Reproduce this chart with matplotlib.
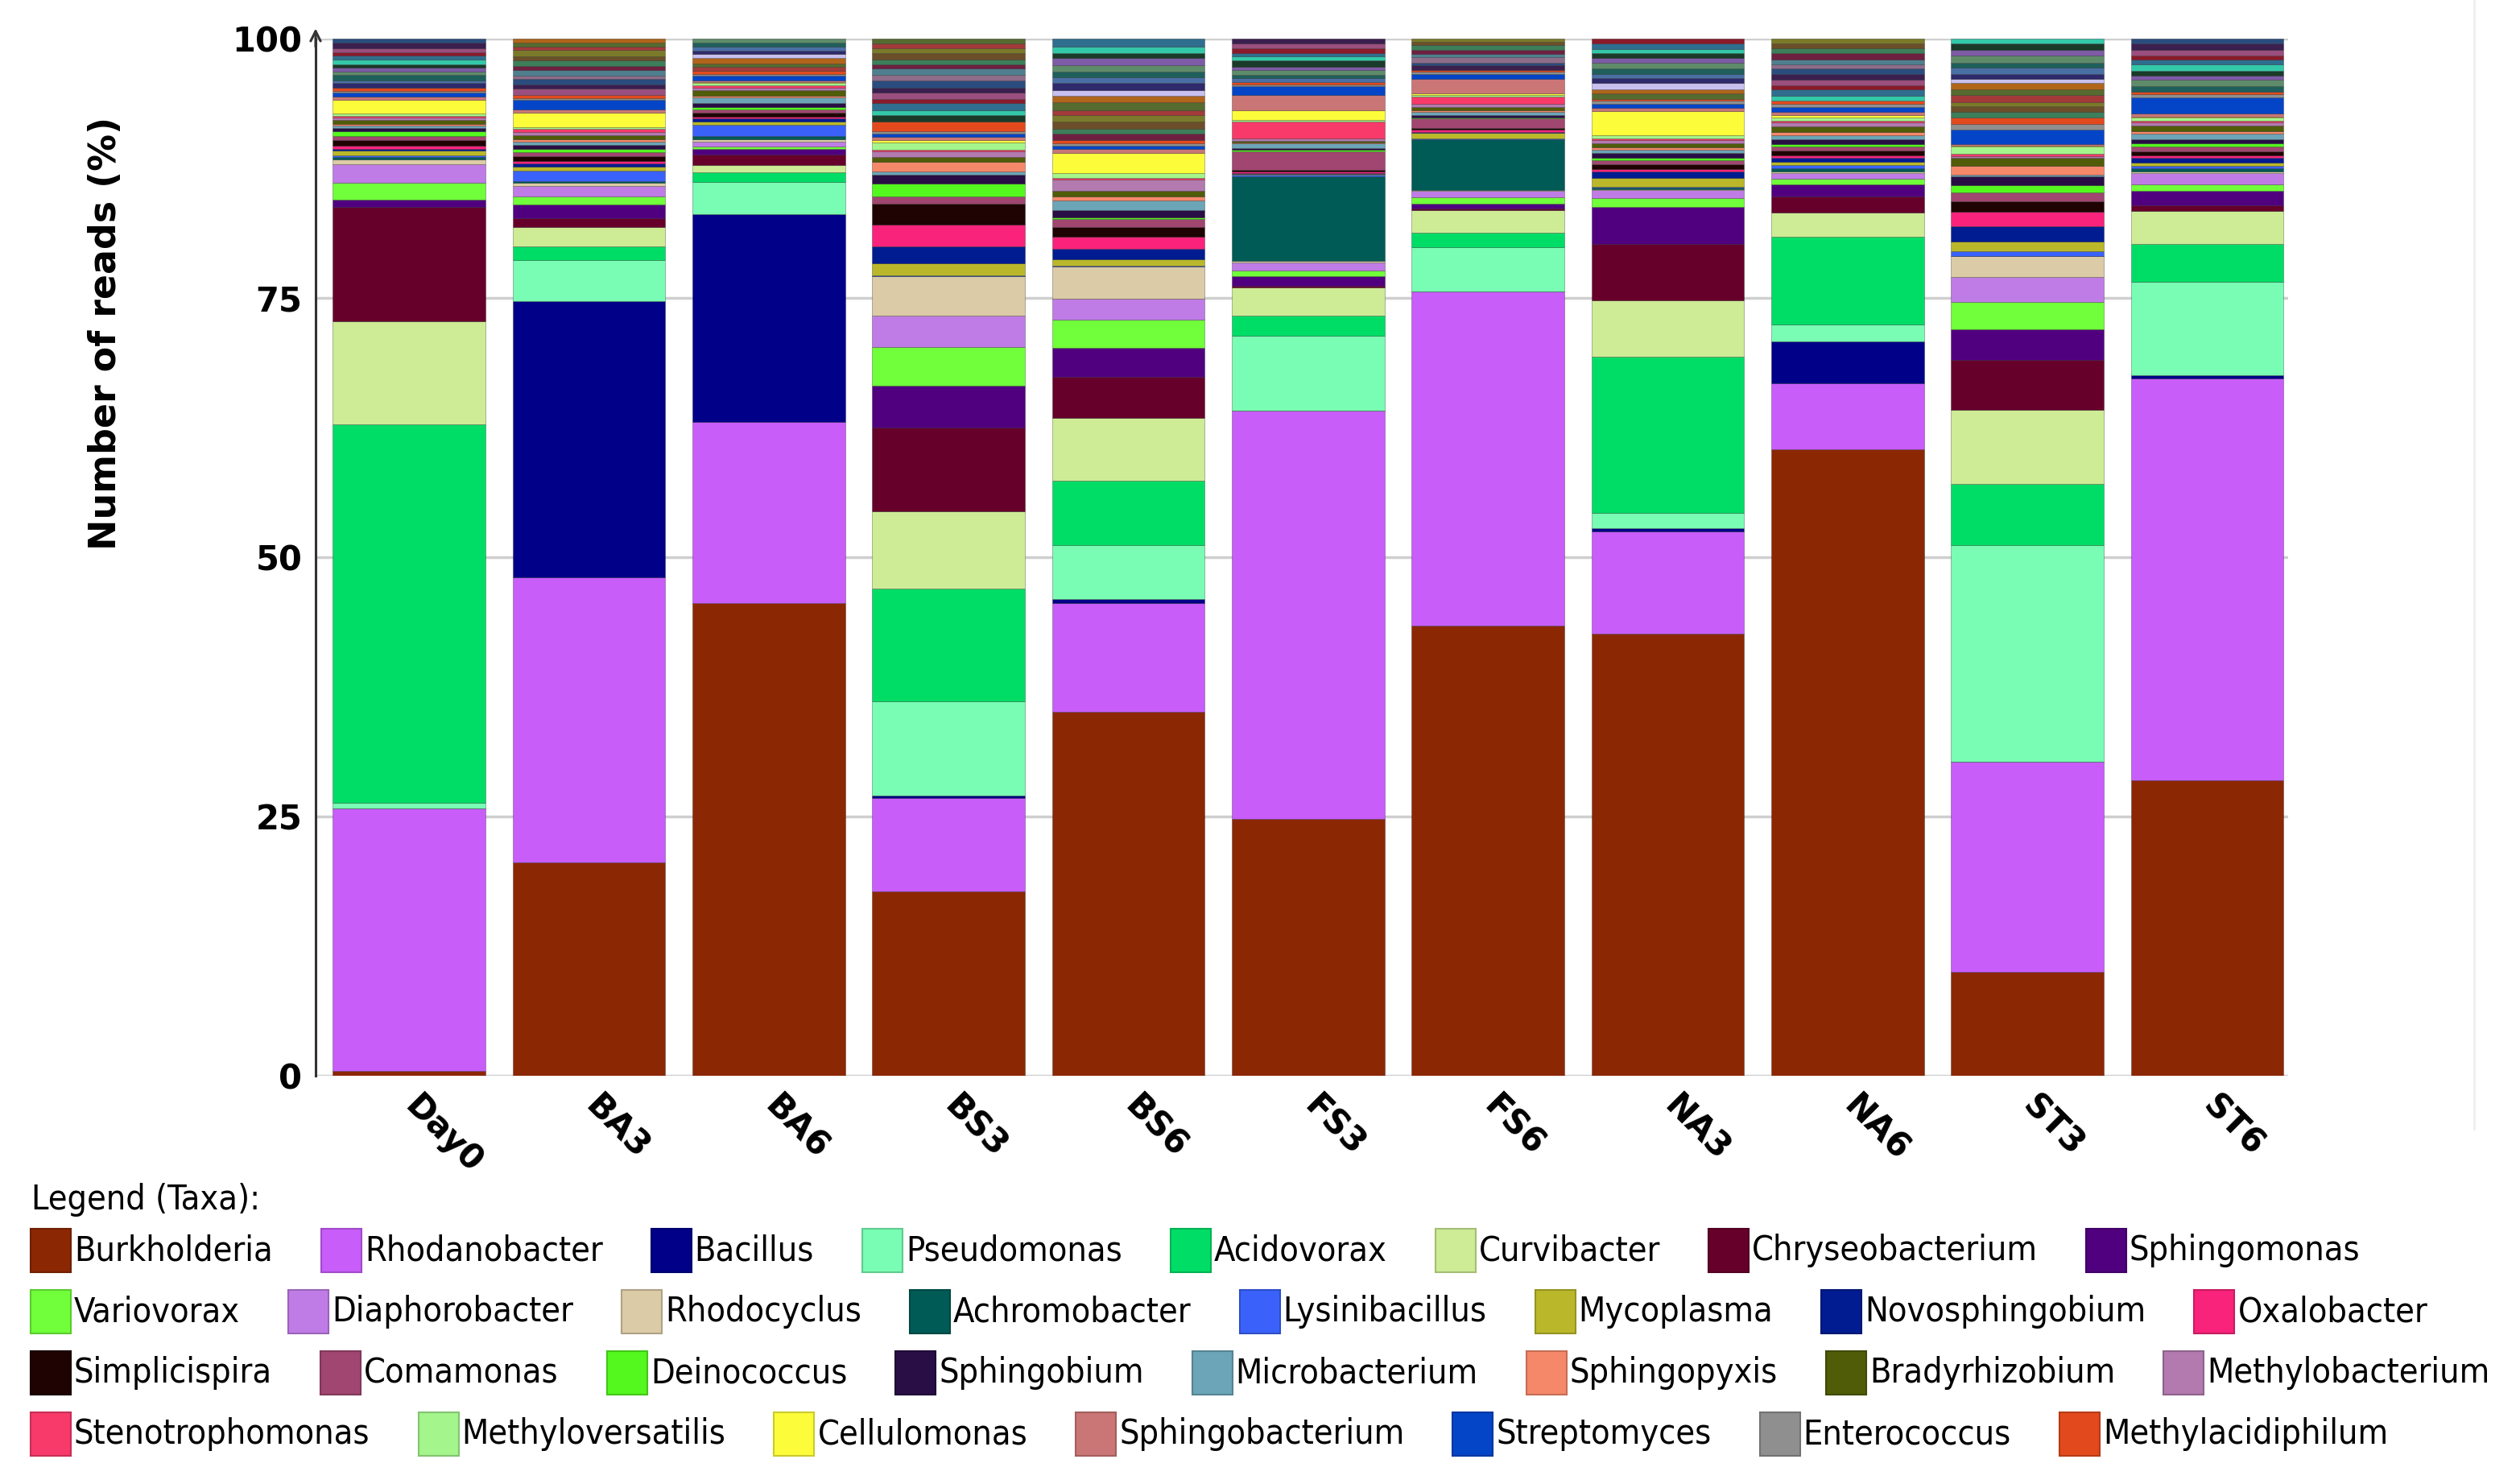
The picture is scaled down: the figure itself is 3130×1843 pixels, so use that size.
import matplotlib
matplotlib.use("Agg")
import matplotlib.pyplot as plt
from matplotlib.patches import Rectangle
from matplotlib.lines import Line2D
from matplotlib import colors as mcolors
from matplotlib import font_manager
import matplotlib.transforms as mtransforms
import numpy as np

# ---------------- data ----------------
SAMPLES = ["Day0", "BA3", "BA6", "BS3", "BS6", "FS3", "FS6", "NA3", "NA6", "ST3", "ST6"]

TAXA = ["Burkholderia", "Rhodanobacter", "Bacillus", "Pseudomonas", "Acidovorax",
        "Curvibacter", "Chryseobacterium", "Sphingomonas", "Variovorax", "Diaphorobacter",
        "Rhodocyclus", "Achromobacter", "Lysinibacillus", "Mycoplasma", "Novosphingobium",
        "Oxalobacter", "Simplicispira", "Comamonas", "Deinococcus", "Sphingobium",
        "Microbacterium", "Sphingopyxis", "Bradyrhizobium", "Methylobacterium",
        "Stenotrophomonas", "Methyloversatilis", "Cellulomonas", "Sphingobacterium",
        "Streptomyces", "Enterococcus", "Methylacidiphilum"]

TAXA_COLORS = ["#8C2703", "#C85DFA", "#000088", "#79FDB4", "#00DD66",
               "#CDEC95", "#66002A", "#50007F", "#70FF3A", "#C07CE6",
               "#DBCBA6", "#005A55", "#3A62FA", "#BAB82A", "#001C90",
               "#F9237B", "#1F0303", "#A04670", "#54F71E", "#280E45",
               "#6BA5B7", "#F6886A", "#505C08", "#B27AAF",
               "#F73A6A", "#A4F58C", "#FCFC3A", "#CA7676",
               "#0445C8", "#8F8F8F", "#E24A1E"]

#                  Day0   BA3    BA6   BS3    BS6   FS3   FS6   NA3   NA6   ST3   ST6
burkholderia    = [0.45, 20.5,  45.5, 17.8,  35.1, 24.7, 43.4, 42.6, 60.5, 10.0, 28.5]
rhodanobacter   = [25.25, 27.5, 17.5, 9.0,   10.5, 39.2, 32.2, 9.9,  6.3,  20.3, 38.8]
bacillus        = [0.0,  26.55, 20.0, 0.25,  0.35, 0.0,  0.0,  0.3,  4.1,  0.0,  0.3]
pseudomonas     = [0.6,  3.95,  3.1,  9.05,  5.25, 7.2,  4.3,  1.5,  1.6,  20.9, 9.0]
acidovorax      = [36.4, 1.3,   0.9,  10.9,  6.2,  2.0,  1.4,  15.0, 8.5,  5.9,  3.7]
curvibacter     = [9.9,  1.9,   0.7,  7.4,   6.0,  2.7,  2.2,  5.5,  2.3,  7.1,  3.2]
chryseobacterium= [11.0, 0.8,   1.0,  8.1,   4.0,  0.1,  0.1,  5.4,  1.6,  4.8,  0.5]
sphingomonas    = [0.7,  1.3,   0.6,  4.0,   2.8,  1.0,  0.5,  3.6,  1.1,  3.0,  1.4]
variovorax      = [1.6,  0.8,   0.2,  3.8,   2.7,  0.5,  0.6,  0.8,  0.6,  2.6,  0.6]
diaphorobacter  = [1.8,  1.0,   0.5,  3.0,   2.0,  0.8,  0.6,  0.8,  0.5,  2.4,  1.1]
rhodocyclus     = [0.5,  0.3,   0.2,  3.8,   3.1,  0.1,  0.1,  0.1,  0.2,  2.0,  0.2]
achromobacter   = [0.2,  0.2,   0.3,  0.0,   0.0,  8.2,  4.9,  0.1,  0.3,  0.0,  0.3]
lysinibacillus  = [0.2,  1.0,   1.1,  0.1,   0.1,  0.1,  0.1,  0.1,  0.3,  0.5,  0.2]
mycoplasma      = [0.4,  0.4,   0.3,  1.1,   0.6,  0.1,  0.5,  0.9,  0.3,  0.9,  0.3]
novosphingobium = [0.2,  0.3,   0.3,  1.7,   1.0,  0.1,  0.1,  0.6,  0.4,  1.5,  0.5]
oxalobacter     = [0.3,  0.2,   0.2,  2.1,   1.2,  0.1,  0.2,  0.2,  0.2,  1.4,  0.2]
simplicispira   = [0.5,  0.5,   0.4,  2.0,   0.9,  0.2,  0.2,  0.5,  0.5,  1.0,  0.4]
comamonas       = [0.4,  0.4,   0.3,  0.7,   0.8,  1.8,  0.9,  0.4,  0.4,  0.9,  0.5]
deinococcus     = [0.5,  0.3,   0.2,  1.2,   0.2,  0.1,  0.1,  0.2,  0.2,  0.7,  0.3]
sphingobium     = [0.3,  0.4,   0.4,  0.9,   0.7,  0.2,  0.2,  0.5,  0.5,  0.8,  0.4]
microbacterium  = [0.2,  0.3,   0.5,  0.3,   0.9,  0.4,  0.3,  0.3,  0.4,  0.2,  0.5]
sphingopyxis    = [0.2,  0.2,   0.2,  0.9,   0.4,  0.1,  0.2,  0.2,  0.3,  0.8,  0.3]
bradyrhizobium  = [0.4,  0.4,   0.5,  0.5,   0.5,  0.2,  0.3,  0.4,  0.5,  0.8,  0.5]
methylobacterium= [0.2,  0.3,   0.3,  0.5,   1.1,  0.2,  0.3,  0.3,  0.4,  0.2,  0.3]
stenotrophomonas= [0.2,  0.3,   0.2,  0.2,   0.2,  1.6,  0.7,  0.2,  0.2,  0.2,  0.2]
methyloversatilis=[0.2,  0.2,   0.2,  0.7,   0.4,  0.2,  0.2,  0.3,  0.3,  0.7,  0.3]
cellulomonas    = [1.3,  1.4,   0.1,  0.2,   2.0,  0.9,  0.1,  2.3,  0.2,  0.1,  0.1]
sphingobacterium= [0.3,  0.3,   0.2,  0.3,   0.4,  1.5,  1.4,  0.3,  0.3,  0.1,  0.3]
streptomyces    = [0.4,  0.9,   0.4,  0.3,   0.3,  0.8,  0.5,  0.4,  0.5,  1.4,  1.5]
enterococcus    = [0.2,  0.2,   0.2,  0.3,   0.2,  0.2,  0.2,  0.3,  0.3,  0.6,  0.3]
methylacidiphilum=[0.3,  0.3,   0.3,  0.9,   0.3,  0.2,  0.2,  0.2,  0.3,  0.6,  0.3]

TAXA_VALUES = [burkholderia, rhodanobacter, bacillus, pseudomonas, acidovorax,
               curvibacter, chryseobacterium, sphingomonas, variovorax, diaphorobacter,
               rhodocyclus, achromobacter, lysinibacillus, mycoplasma, novosphingobium,
               oxalobacter, simplicispira, comamonas, deinococcus, sphingobium,
               microbacterium, sphingopyxis, bradyrhizobium, methylobacterium,
               stenotrophomonas, methyloversatilis, cellulomonas, sphingobacterium,
               streptomyces, enterococcus, methylacidiphilum]

# many minor, unlisted taxa stacked at the top of each bar
OTHERS = [
    [0.4, 0.3, 0.5, 0.3, 0.4, 0.3, 0.5, 0.4, 0.3, 0.4, 0.5, 0.4],               # Day0
    [0.6, 0.4, 0.5, 0.3, 0.6, 0.4, 0.5, 0.4, 0.6, 0.3, 0.4, 0.4],               # BA3
    [0.4, 0.3, 0.5, 0.4, 0.3, 0.4, 0.4, 0.4],                                   # BA6
    [0.6, 0.5, 0.7, 0.4, 0.6, 0.5, 0.7, 0.5, 0.6, 0.4, 0.5, 0.6, 0.5, 0.4, 0.5],# BS3
    [0.6, 0.5, 0.7, 0.6, 0.5, 0.8, 0.6, 0.5, 0.7, 0.6, 0.5, 0.6, 0.7, 0.5, 0.6, 0.8], # BS6
    [0.4, 0.3, 0.5, 0.3, 0.6, 0.4, 0.3, 0.5, 0.4, 0.5],                         # FS3
    [0.4, 0.3, 0.5, 0.3, 0.4, 0.5, 0.3, 0.3],                                   # FS6
    [0.5, 0.4, 0.6, 0.5, 0.4, 0.5, 0.6, 0.4, 0.5, 0.4, 0.5, 0.5],               # NA3
    [0.5, 0.6, 0.4, 0.5, 0.6, 0.5, 0.4, 0.5, 0.6, 0.5, 0.4, 0.5],               # NA6
    [0.5, 0.6, 0.4, 0.7, 0.5, 0.6, 0.4, 0.5, 0.6, 0.5, 0.7, 0.5, 0.6, 0.5],     # ST3
    [0.5, 0.6, 0.4, 0.5, 0.6, 0.5, 0.4, 0.5, 0.6, 0.5],                         # ST6
]
OTHER_COLORS = ["#2E2A6B", "#3C7F5A", "#8B1A2B", "#4A6FA5", "#6B4F2A", "#9A4F7E",
                "#1F5F5B", "#7A7A2A", "#3B1F4F", "#5E8C6A", "#A33A3A", "#2B4C7E",
                "#7D5BA6", "#556B2F", "#8E6C8A", "#1A3A2A", "#B0651A", "#4F7F8F",
                "#33C9A8", "#C8C0EE", "#6E2040", "#2F6E8E"]

LEGEND_ROWS = [
    ["Burkholderia", "Rhodanobacter", "Bacillus", "Pseudomonas", "Acidovorax",
     "Curvibacter", "Chryseobacterium", "Sphingomonas"],
    ["Variovorax", "Diaphorobacter", "Rhodocyclus", "Achromobacter", "Lysinibacillus",
     "Mycoplasma", "Novosphingobium", "Oxalobacter"],
    ["Simplicispira", "Comamonas", "Deinococcus", "Sphingobium", "Microbacterium",
     "Sphingopyxis", "Bradyrhizobium", "Methylobacterium"],
    ["Stenotrophomonas", "Methyloversatilis", "Cellulomonas", "Sphingobacterium",
     "Streptomyces", "Enterococcus", "Methylacidiphilum"],
]

# ---------------- figure ----------------
W, H = 3130, 1843
fig = plt.figure(figsize=(W / 100, H / 100), dpi=100)
fig.patch.set_facecolor("white")
ax = fig.add_axes([392 / W, 1 - 1336 / H, (2842 - 392) / W, (1336 - 48) / H])

n = len(SAMPLES)
x = np.arange(n)
totals = np.array([sum(v[i] for v in TAXA_VALUES) + sum(OTHERS[i]) for i in range(n)])
scale = 100.0 / totals
bw = 0.85
edge = (0, 0, 0, 0.28)

bottom = np.zeros(n)
for vals, col in zip(TAXA_VALUES, TAXA_COLORS):
    v = np.array(vals) * scale
    ax.bar(x, v, bw, bottom=bottom, color=col, edgecolor=edge, linewidth=0.7, zorder=3)
    bottom += v

for i in range(n):
    b = bottom[i]
    for k, val in enumerate(OTHERS[i]):
        v = val * scale[i]
        c = OTHER_COLORS[(k * 3 + i * 5) % len(OTHER_COLORS)]
        ax.bar(x[i], v, bw, bottom=b, color=c, edgecolor=edge, linewidth=0.7, zorder=3)
        b += v

ax.set_xlim(-0.52, n - 1 + 0.45)
ax.set_ylim(0, 100)
ax.set_yticks([0, 25, 50, 75, 100])
ax.set_yticklabels(["0", "25", "50", "75", "100"])
ax.yaxis.grid(True, color="#cfcfcf", linewidth=2.5, zorder=0)
ax.set_axisbelow(True)
for s in ["top", "right", "bottom"]:
    ax.spines[s].set_visible(False)
ax.spines["left"].set_color("#333333")
ax.spines["left"].set_linewidth(2.2)
ax.tick_params(axis="y", length=0, pad=12, labelsize=30)
ax.tick_params(axis="x", length=0, pad=12, labelsize=30)
for lab in ax.get_yticklabels():
    lab.set_fontweight("bold")
ax.set_xticks(x)
ax.set_xticklabels(SAMPLES, rotation=-45, ha="left", va="top",
                   rotation_mode="anchor", fontweight="bold")
shift = mtransforms.ScaledTranslation(0.16, 0, fig.dpi_scale_trans)
for lab in ax.get_xticklabels():
    lab.set_transform(lab.get_transform() + shift)
ax.set_ylabel("Number of reads (%)", fontsize=33, fontweight="bold")
ax.yaxis.set_label_coords(-0.097, 0.716)

# small arrow head on top of the y axis
ax.annotate("", xy=(0, 1.012), xytext=(0, 0.99), xycoords="axes fraction",
            arrowprops=dict(arrowstyle="->", color="#333333", lw=2.2,
                            mutation_scale=22), annotation_clip=False)

# faint frame line at the right of the chart area
fig.add_artist(Line2D([3073 / W, 3073 / W], [1.0, 1 - 1402 / H], color="#efefef",
                      linewidth=2, transform=fig.transFigure))

# ---------------- legend (flowing rows) ----------------
available = {f.name for f in font_manager.fontManager.ttflist}
if "Liberation Sans Narrow" in available:
    leg_family, leg_stretch, fs = ["Liberation Sans Narrow", "DejaVu Sans"], "normal", 34
else:
    leg_family, leg_stretch, fs = ["DejaVu Sans"], "condensed", 31

renderer = fig.canvas.get_renderer()
color_of = dict(zip(TAXA, TAXA_COLORS))
row_y = [1553, 1629, 1705, 1781]
row_end = [2936, 3036, 3106, 3016]
sw, sh = 50, 54
x0 = 38


def text_width(s, size):
    t = fig.text(0, 0, s, fontsize=size, family=leg_family, stretch=leg_stretch)
    w = t.get_window_extent(renderer).width
    t.remove()
    return w


# pick a size so every row fits its reference width with a reasonable gap
while True:
    gaps = []
    for row, end in zip(LEGEND_ROWS, row_end):
        used = sum(sw + 4 + text_width(nm, fs) for nm in row)
        gaps.append((end - x0 - used) / (len(row) - 1))
    if min(gaps) >= 22 or fs <= 18:
        break
    fs -= 0.5

fig.text(39 / W, 1 - 1490 / H, "Legend (Taxa):", fontsize=fs, family=leg_family,
         stretch=leg_stretch, ha="left", va="center")
for row, yc, g in zip(LEGEND_ROWS, row_y, gaps):
    g = min(max(g, 22), 60)
    xp = x0
    for name in row:
        col = color_of[name]
        dark = tuple(np.array(mcolors.to_rgb(col)) * 0.8)
        fig.patches.append(Rectangle((xp / W, (H - yc - sh / 2) / H), sw / W, sh / H,
                                     transform=fig.transFigure, facecolor=col,
                                     edgecolor=dark, linewidth=1.5))
        t = fig.text((xp + sw + 4) / W, 1 - yc / H, name, fontsize=fs, family=leg_family,
                     stretch=leg_stretch, ha="left", va="center")
        bb = t.get_window_extent(renderer)
        xp = bb.x1 + g

fig.savefig("out.png", dpi=100)
